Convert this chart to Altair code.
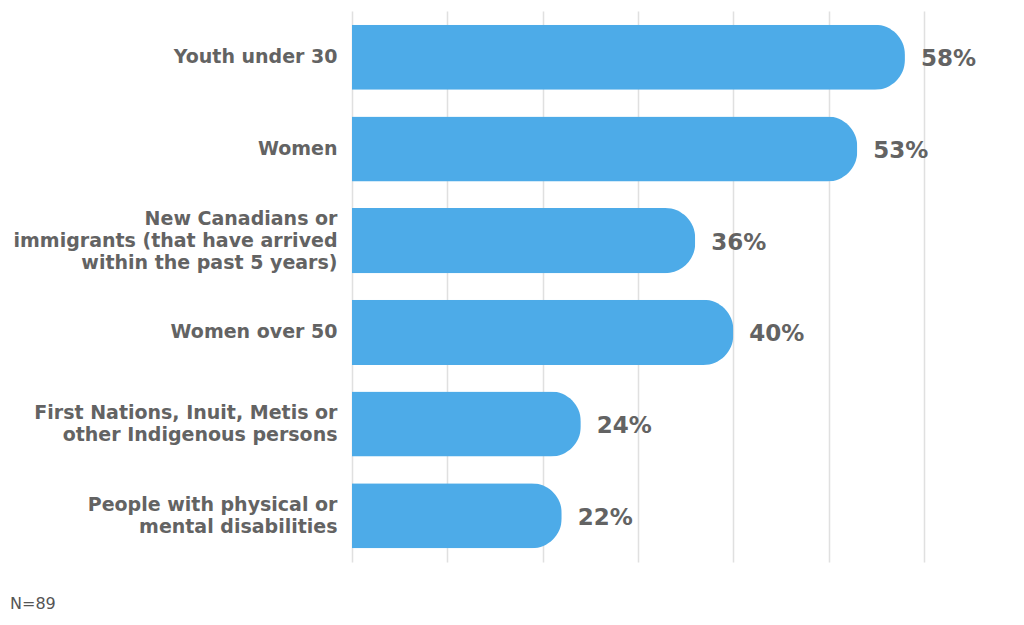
import altair as alt
import pandas as pd

categories = [
    "Youth under 30",
    "Women",
    "New Canadians or|immigrants (that have arrived|within the past 5 years)",
    "Women over 50",
    "First Nations, Inuit, Metis or|other Indigenous persons",
    "People with physical or|mental disabilities",
]
values = [58, 53, 36, 40, 24, 22]
value_labels = ["58%", "53%", "36%", "40%", "24%", "22%"]
grid_ticks = [0, 10, 20, 30, 40, 50, 60]
footnote = "N=89"

df = pd.DataFrame({"cat": categories, "val": values, "lab": value_labels})

FONT = "DejaVu Sans"
GRAY = "#636363"
BLUE = "#4DABE8"
LH = 22

y_enc = alt.Y(
    "cat:N",
    sort=categories,
    scale=alt.Scale(paddingInner=0.29, paddingOuter=0.15),
    axis=alt.Axis(
        title=None,
        domain=False,
        ticks=False,
        grid=False,
        labelExpr="split(datum.label, '|')",
        labelFont=FONT,
        labelFontSize=19,
        labelFontWeight="bold",
        labelColor=GRAY,
        labelLineHeight=LH,
        labelPadding=15,
        labelLimit=400,
        labelOffset={
            "condition": [
                {"test": "length(split(datum.label, '|')) == 3", "value": -LH},
                {"test": "length(split(datum.label, '|')) == 2", "value": -LH / 2},
            ],
            "value": 0,
        },
    ),
)
x_enc = alt.X(
    "val:Q",
    scale=alt.Scale(domain=[0, 60], nice=False),
    axis=alt.Axis(
        title=None,
        values=grid_ticks,
        labels=False,
        ticks=False,
        domain=False,
        grid=True,
        gridColor="#e0e0e0",
        gridWidth=1.5,
    ),
)

bars = alt.Chart(df).mark_bar(color=BLUE, cornerRadiusEnd=30).encode(y=y_enc, x=x_enc)

texts = alt.Chart(df).mark_text(
    align="left", baseline="middle", dx=16, dy=2, font=FONT, fontSize=23,
    fontWeight="bold", color=GRAY,
).encode(y=alt.Y("cat:N", sort=categories), x=alt.X("val:Q"), text="lab:N")

note = alt.Chart(pd.DataFrame({"t": [footnote]})).mark_text(
    align="left", baseline="middle", font=FONT, fontSize=16,
    color="#555555",
).encode(x=alt.value(-342), y=alt.value(593), text="t:N")

chart = (
    alt.layer(bars, texts, note)
    .properties(
        width=572,
        height=551,
        padding={"left": 344, "top": 3, "right": 92, "bottom": 55},
        autosize=alt.AutoSizeParams(type="none"),
    )
    .configure_view(stroke=None)
)

chart.save("out.html", embed_options={"renderer": "svg", "actions": False})
